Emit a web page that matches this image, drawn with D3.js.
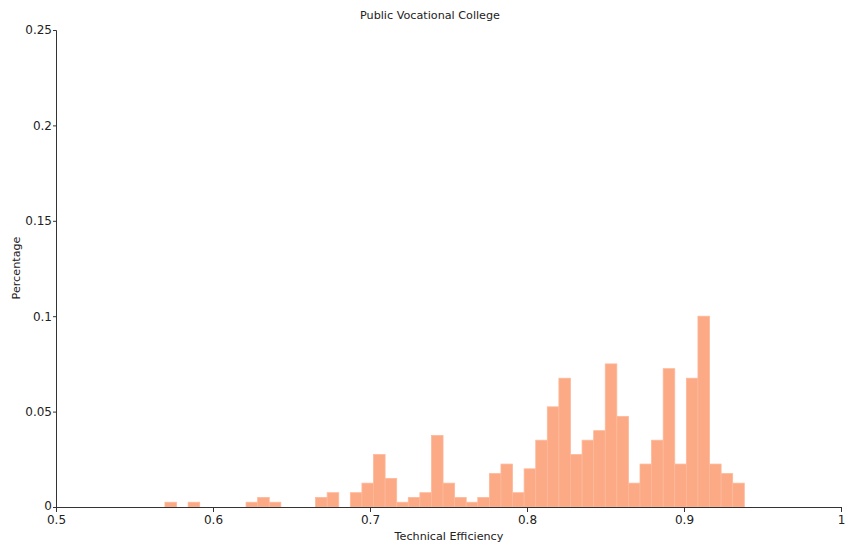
<!DOCTYPE html>
<html>
<head>
<meta charset="utf-8">
<script src="https://cdn.jsdelivr.net/npm/d3@7"></script>
<style>
  html, body { margin: 0; padding: 0; background: #fff; }
  svg { display: block; font-family: "DejaVu Sans", Verdana, sans-serif; }
</style>
</head>
<body>
<svg id="chart" width="854" height="544"></svg>
<script>
// Histogram bins: lower edge of first bin and bin width (data units)
const binStart = 0.5694;
const binWidth = 0.00738;
// Share of observations per bin (50 bins)
const percentages = [
  0.0025, 0, 0.0025, 0, 0, 0, 0, 0.0025, 0.005, 0.0025,
  0, 0, 0, 0.005, 0.0075, 0, 0.0075, 0.0125, 0.0275, 0.015,
  0.0025, 0.005, 0.0075, 0.0375, 0.0125, 0.005, 0.0025, 0.005, 0.0175, 0.0225,
  0.0075, 0.02, 0.035, 0.0525, 0.0675, 0.0275, 0.035, 0.04, 0.075, 0.0475,
  0.0125, 0.0225, 0.035, 0.0725, 0.0225, 0.0675, 0.1, 0.0225, 0.0175, 0.0125
];
const xTicks = [0.5, 0.6, 0.7, 0.8, 0.9, 1];
const yTicks = [0, 0.05, 0.1, 0.15, 0.2, 0.25];

const svg = d3.select("#chart");
const margin = { left: 56, right: 13, top: 30, bottom: 37 };
const W = 854, H = 544;

const x = d3.scaleLinear().domain([0.5, 1]).range([margin.left, W - margin.right]);
const y = d3.scaleLinear().domain([0, 0.25]).range([H - margin.bottom, margin.top]);

const bins = percentages.map((v, i) => ({
  x0: binStart + i * binWidth,
  x1: binStart + (i + 1) * binWidth,
  v
}));

svg.append("g")
  .selectAll("rect")
  .data(bins.filter(d => d.v > 0))
  .join("rect")
  .attr("x", d => x(d.x0))
  .attr("width", d => x(d.x1) - x(d.x0))
  .attr("y", d => y(d.v))
  .attr("height", d => y(0) - y(d.v))
  .attr("fill", "#FCA985")
  .attr("stroke", "#FDB99A")
  .attr("stroke-width", 0.8);

const fmt = d => String(+d.toFixed(3));

const gx = svg.append("g")
  .attr("transform", `translate(0,${y(0)})`)
  .call(d3.axisBottom(x).tickValues(xTicks).tickFormat(fmt).tickSize(5).tickPadding(3));
gx.select(".domain").attr("stroke", "#333");
gx.selectAll(".tick line").attr("stroke", "#333");
gx.selectAll("text").attr("font-size", 12).attr("fill", "#222")
  .attr("font-family", "DejaVu Sans, Verdana, sans-serif");

const gy = svg.append("g")
  .attr("transform", `translate(${x(0.5)},0)`)
  .call(d3.axisLeft(y).tickValues(yTicks).tickFormat(fmt).tickSize(3).tickPadding(1));
gy.select(".domain").attr("stroke", "#333");
gy.selectAll(".tick line").attr("stroke", "#333");
gy.selectAll("text").attr("font-size", 12).attr("fill", "#222")
  .attr("font-family", "DejaVu Sans, Verdana, sans-serif")
  .attr("dy", (d) => d === 0 ? "0.2em" : "0.32em");

svg.append("text")
  .attr("x", 430).attr("y", 19)
  .attr("text-anchor", "middle")
  .attr("font-size", 11.2).attr("fill", "#222")
  .text("Public Vocational College");

svg.append("text")
  .attr("x", 449).attr("y", 540)
  .attr("text-anchor", "middle")
  .attr("font-size", 11.2).attr("fill", "#222")
  .text("Technical Efficiency");

svg.append("text")
  .attr("transform", "translate(20,268) rotate(-90)")
  .attr("text-anchor", "middle")
  .attr("font-size", 11.2).attr("fill", "#222")
  .text("Percentage");
</script>
</body>
</html>
